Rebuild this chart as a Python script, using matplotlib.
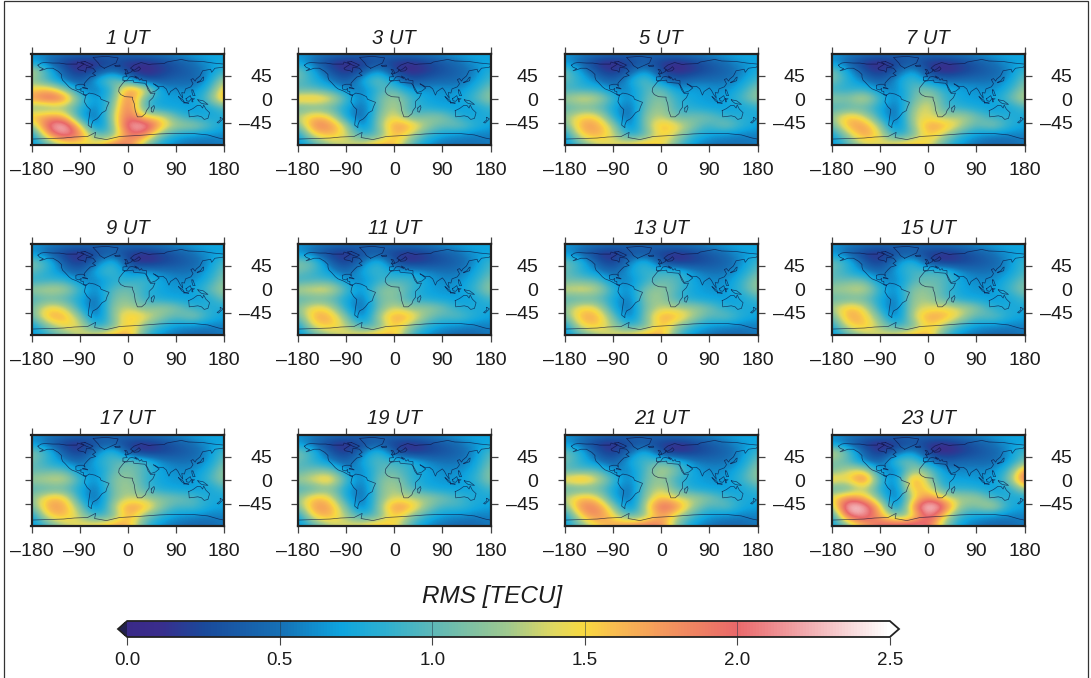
import numpy as np
import matplotlib
matplotlib.use("Agg")
import matplotlib.pyplot as plt
from matplotlib.colors import LinearSegmentedColormap, Normalize
from matplotlib.cm import ScalarMappable
from matplotlib.patches import Rectangle
from matplotlib.ticker import FormatStrFormatter

plt.rcParams['font.family'] = ['Liberation Sans', 'DejaVu Sans']

W, H = 1091, 678

lons = [-180, -150, -120, -90, -60, -30, 0, 30, 60, 90, 120, 150, 180]
lats = [87.5, 70, 52.5, 35, 17.5, 0, -17.5, -35, -52.5, -70, -87.5]
hours = [1, 3, 5, 7, 9, 11, 13, 15, 17, 19, 21, 23]
xticks = [-180, -90, 0, 90, 180]
yticks = [45, 0, -45]
cbar_ticks = [0.0, 0.5, 1.0, 1.5, 2.0, 2.5]

# RMS in hundredths of a TECU, rows north to south, columns west to east
pole_row = [65, 60, 55, 50, 45, 45, 50, 55, 60, 65, 70, 75, 70]

rms_01 = [pole_row,
    [70, 45, 15, 5, 12, 25, 15, 10, 20, 35, 50, 65, 75],
    [145, 95, 35, 10, 25, 55, 15, 5, 15, 30, 40, 60, 90],
    [115, 85, 55, 30, 75, 120, 80, 25, 35, 45, 40, 65, 135],
    [150, 165, 120, 60, 50, 85, 185, 160, 65, 60, 60, 85, 165],
    [175, 210, 195, 100, 60, 95, 205, 100, 70, 70, 65, 105, 180],
    [110, 105, 120, 85, 50, 110, 210, 90, 70, 70, 65, 75, 100],
    [165, 175, 170, 70, 40, 125, 210, 140, 150, 100, 75, 70, 80],
    [110, 215, 245, 150, 40, 110, 225, 240, 165, 125, 130, 100, 70],
    [65, 170, 225, 190, 100, 100, 195, 185, 110, 75, 65, 60, 60],
    [60, 100, 135, 145, 145, 185, 195, 120, 75, 55, 50, 50, 55]]
rms_03 = [pole_row,
    [70, 45, 15, 5, 15, 30, 15, 10, 20, 35, 50, 65, 70],
    [115, 75, 30, 10, 30, 75, 20, 5, 15, 30, 40, 55, 85],
    [105, 80, 55, 30, 75, 115, 65, 30, 40, 45, 45, 65, 95],
    [95, 100, 85, 60, 50, 90, 105, 65, 65, 65, 60, 80, 115],
    [165, 170, 155, 95, 50, 105, 130, 95, 70, 65, 70, 95, 125],
    [100, 105, 100, 75, 40, 100, 140, 85, 80, 70, 65, 70, 90],
    [130, 165, 150, 70, 35, 115, 150, 100, 115, 120, 80, 70, 80],
    [105, 190, 185, 135, 40, 115, 180, 170, 125, 100, 115, 85, 70],
    [65, 150, 165, 140, 85, 95, 170, 135, 90, 70, 60, 55, 55],
    [60, 90, 125, 135, 140, 165, 165, 100, 65, 50, 50, 50, 55]]
rms_05 = [pole_row,
    [65, 40, 12, 5, 20, 35, 15, 8, 20, 35, 50, 65, 70],
    [110, 70, 28, 10, 35, 75, 20, 5, 15, 30, 40, 55, 80],
    [105, 80, 55, 35, 70, 110, 55, 35, 50, 50, 50, 65, 95],
    [90, 85, 85, 60, 55, 95, 110, 65, 70, 65, 60, 80, 120],
    [125, 150, 140, 90, 55, 100, 120, 85, 70, 65, 70, 95, 125],
    [95, 105, 100, 75, 40, 105, 130, 85, 80, 70, 65, 70, 85],
    [120, 155, 155, 80, 35, 120, 135, 100, 110, 110, 85, 80, 75],
    [100, 175, 175, 130, 40, 115, 170, 150, 115, 85, 120, 85, 70],
    [65, 155, 170, 140, 75, 95, 160, 130, 85, 70, 60, 55, 55],
    [60, 100, 135, 140, 150, 165, 155, 100, 65, 50, 50, 50, 55]]
rms_07 = [pole_row,
    [65, 40, 12, 5, 20, 35, 15, 10, 20, 35, 50, 65, 70],
    [115, 75, 28, 10, 35, 80, 20, 5, 15, 30, 40, 55, 95],
    [115, 80, 55, 35, 65, 100, 60, 45, 50, 50, 50, 65, 110],
    [85, 80, 90, 60, 55, 100, 115, 80, 70, 65, 60, 80, 125],
    [125, 115, 150, 90, 55, 100, 135, 90, 70, 65, 70, 100, 140],
    [90, 95, 100, 75, 40, 120, 150, 90, 85, 75, 65, 70, 95],
    [120, 165, 140, 80, 35, 135, 145, 120, 135, 110, 85, 80, 75],
    [100, 170, 180, 125, 40, 120, 175, 170, 135, 95, 125, 85, 70],
    [65, 125, 180, 145, 75, 100, 165, 130, 85, 65, 55, 55, 55],
    [60, 95, 135, 140, 150, 165, 150, 95, 65, 50, 45, 45, 55]]
rms_09 = [pole_row,
    [65, 40, 15, 8, 25, 40, 18, 10, 20, 35, 50, 65, 70],
    [115, 95, 32, 12, 45, 95, 22, 6, 18, 30, 40, 60, 100],
    [105, 80, 55, 35, 80, 100, 55, 65, 55, 50, 50, 70, 110],
    [80, 85, 90, 60, 55, 80, 85, 95, 70, 60, 60, 80, 120],
    [125, 140, 135, 90, 55, 100, 110, 85, 70, 65, 70, 100, 130],
    [90, 100, 95, 75, 40, 110, 120, 85, 75, 70, 65, 75, 110],
    [105, 155, 140, 80, 35, 120, 135, 110, 125, 115, 85, 80, 75],
    [100, 170, 170, 120, 40, 115, 165, 150, 120, 95, 125, 85, 70],
    [65, 115, 150, 145, 75, 100, 165, 115, 85, 65, 60, 55, 55],
    [60, 85, 110, 135, 145, 165, 175, 95, 60, 50, 45, 45, 55]]
rms_11 = [pole_row,
    [65, 40, 15, 8, 30, 35, 18, 10, 20, 35, 50, 65, 70],
    [115, 110, 40, 15, 50, 95, 28, 10, 20, 30, 40, 60, 95],
    [110, 90, 65, 40, 75, 95, 70, 70, 60, 50, 50, 70, 100],
    [85, 90, 95, 65, 55, 85, 95, 95, 70, 60, 60, 80, 115],
    [135, 150, 150, 95, 60, 115, 125, 90, 70, 65, 65, 90, 125],
    [95, 100, 100, 75, 45, 110, 115, 85, 75, 70, 65, 70, 95],
    [115, 155, 140, 75, 40, 105, 140, 115, 125, 110, 80, 75, 75],
    [100, 170, 170, 115, 40, 130, 175, 165, 115, 95, 105, 80, 70],
    [65, 150, 160, 135, 85, 100, 165, 120, 85, 65, 60, 55, 55],
    [60, 95, 125, 140, 150, 165, 165, 95, 60, 50, 45, 45, 55]]
rms_13 = [pole_row,
    [65, 40, 15, 8, 30, 30, 18, 10, 20, 35, 50, 65, 70],
    [110, 90, 35, 15, 55, 95, 28, 10, 20, 30, 40, 60, 95],
    [105, 80, 60, 40, 70, 90, 90, 90, 60, 50, 50, 70, 105],
    [105, 105, 100, 60, 55, 85, 105, 100, 70, 60, 60, 85, 125],
    [140, 150, 140, 85, 55, 115, 125, 95, 70, 65, 65, 90, 125],
    [95, 95, 100, 75, 45, 120, 125, 85, 75, 70, 65, 70, 95],
    [115, 155, 145, 75, 40, 110, 135, 130, 125, 110, 80, 75, 75],
    [105, 170, 170, 110, 40, 115, 175, 165, 130, 95, 110, 80, 70],
    [65, 150, 160, 125, 85, 100, 165, 120, 85, 65, 60, 55, 55],
    [60, 95, 125, 140, 150, 165, 175, 95, 60, 50, 45, 45, 55]]
rms_15 = [pole_row,
    [65, 40, 15, 8, 30, 35, 18, 10, 20, 35, 50, 65, 70],
    [110, 90, 35, 15, 60, 95, 28, 10, 20, 30, 40, 60, 95],
    [105, 80, 60, 40, 70, 95, 95, 95, 60, 50, 50, 65, 95],
    [100, 105, 110, 60, 55, 95, 105, 100, 70, 60, 60, 80, 110],
    [125, 135, 145, 85, 55, 120, 120, 95, 70, 65, 65, 90, 120],
    [100, 100, 105, 75, 45, 125, 125, 95, 75, 70, 65, 70, 95],
    [125, 165, 145, 75, 40, 130, 140, 145, 135, 120, 80, 75, 75],
    [100, 175, 160, 110, 40, 135, 175, 170, 140, 95, 110, 80, 70],
    [70, 150, 165, 125, 85, 100, 160, 125, 85, 65, 60, 55, 55],
    [60, 95, 125, 140, 145, 165, 170, 95, 60, 50, 45, 45, 55]]
rms_17 = [pole_row,
    [65, 40, 15, 8, 30, 35, 18, 10, 20, 35, 50, 65, 70],
    [115, 95, 35, 15, 55, 100, 30, 10, 20, 30, 40, 60, 100],
    [110, 80, 60, 40, 80, 95, 110, 95, 60, 50, 50, 65, 110],
    [100, 100, 105, 60, 60, 100, 115, 95, 70, 60, 60, 80, 125],
    [125, 140, 145, 90, 55, 115, 125, 90, 70, 65, 65, 90, 125],
    [95, 95, 100, 75, 45, 110, 130, 95, 75, 70, 65, 70, 95],
    [115, 160, 160, 75, 40, 110, 135, 125, 115, 110, 100, 75, 75],
    [105, 175, 175, 115, 40, 125, 180, 170, 120, 90, 100, 75, 70],
    [65, 155, 165, 130, 85, 100, 175, 115, 85, 65, 60, 55, 55],
    [60, 95, 130, 145, 150, 170, 170, 95, 60, 50, 45, 45, 55]]
rms_19 = [pole_row,
    [65, 40, 15, 8, 25, 35, 18, 10, 20, 35, 50, 65, 70],
    [115, 90, 32, 12, 50, 100, 30, 10, 20, 30, 40, 60, 100],
    [105, 80, 60, 35, 75, 100, 90, 85, 60, 50, 50, 65, 110],
    [95, 110, 115, 60, 55, 100, 105, 85, 70, 60, 60, 75, 120],
    [125, 150, 170, 95, 50, 110, 125, 85, 70, 65, 65, 85, 120],
    [90, 95, 115, 75, 40, 110, 135, 95, 75, 70, 65, 70, 95],
    [115, 165, 150, 75, 40, 110, 140, 130, 125, 110, 95, 75, 75],
    [110, 180, 175, 110, 40, 115, 185, 170, 120, 90, 95, 75, 70],
    [65, 160, 170, 125, 85, 100, 165, 120, 85, 65, 60, 55, 55],
    [60, 95, 130, 140, 145, 165, 155, 95, 60, 50, 45, 45, 55]]
rms_21 = [pole_row,
    [65, 40, 15, 8, 25, 30, 18, 10, 20, 35, 50, 65, 70],
    [110, 85, 32, 12, 45, 90, 22, 6, 18, 30, 40, 60, 95],
    [110, 80, 55, 35, 75, 95, 100, 85, 55, 50, 50, 65, 110],
    [95, 95, 105, 60, 55, 95, 140, 110, 70, 60, 60, 80, 125],
    [155, 185, 145, 95, 50, 105, 125, 85, 70, 65, 65, 90, 120],
    [95, 95, 105, 75, 40, 110, 140, 95, 75, 70, 65, 70, 95],
    [130, 165, 150, 75, 40, 120, 165, 135, 130, 115, 90, 75, 75],
    [105, 190, 190, 125, 40, 135, 210, 185, 125, 90, 110, 75, 70],
    [65, 155, 190, 150, 95, 115, 180, 130, 90, 65, 60, 55, 55],
    [65, 110, 150, 170, 180, 195, 190, 110, 65, 50, 45, 45, 55]]
rms_23 = [pole_row,
    [65, 40, 15, 5, 15, 30, 15, 8, 20, 35, 50, 65, 70],
    [145, 110, 40, 10, 40, 75, 15, 5, 15, 30, 40, 60, 100],
    [115, 95, 55, 35, 105, 110, 60, 35, 45, 45, 45, 65, 110],
    [105, 135, 150, 60, 50, 125, 115, 60, 60, 60, 60, 90, 185],
    [165, 145, 210, 90, 50, 190, 125, 70, 70, 65, 65, 110, 210],
    [95, 95, 135, 80, 40, 170, 150, 80, 85, 80, 65, 75, 135],
    [145, 185, 165, 105, 35, 140, 185, 145, 125, 130, 90, 75, 75],
    [115, 250, 235, 160, 40, 175, 260, 210, 115, 110, 145, 80, 70],
    [70, 210, 220, 170, 105, 125, 225, 145, 85, 70, 60, 55, 55],
    [65, 115, 165, 205, 210, 220, 205, 120, 65, 50, 45, 45, 55]]

panels = [rms_01, rms_03, rms_05, rms_07, rms_09, rms_11,
          rms_13, rms_15, rms_17, rms_19, rms_21, rms_23]

# Hand-read coastlines (lon, lat)
north_america = [(-168,66),(-162,70),(-156,71),(-140,70),(-128,70),(-115,68),(-95,68),(-94,72),(-82,68),(-94,60),(-92,57),(-82,55),(-79,52),(-78,58),(-77,62),(-65,60),(-60,54),(-66,50),(-60,46),(-70,43),(-75,38),(-81,31),(-80,25),(-83,29),(-90,29),(-97,27),(-97,20),(-91,18),(-87,21),(-88,16),(-83,15),(-83,10),(-78,8),(-80,7),(-86,11),(-95,16),(-105,20),(-110,24),(-117,32),(-122,37),(-124,43),(-124,48),(-130,54),(-140,60),(-150,60),(-158,57),(-165,55),(-158,59),(-165,62),(-168,66)]
south_america = [(-78,8),(-72,12),(-62,10),(-52,5),(-50,0),(-35,-6),(-39,-15),(-41,-22),(-48,-26),(-54,-34),(-58,-38),(-65,-42),(-68,-50),(-68,-55),(-74,-50),(-73,-40),(-70,-20),(-76,-14),(-81,-5),(-80,1),(-78,8)]
africa = [(-6,35),(10,37),(11,33),(20,32),(32,31),(35,27),(38,18),(43,11),(51,12),(47,3),(40,-4),(40,-15),(35,-22),(33,-28),(26,-34),(18,-34),(14,-22),(12,-8),(9,0),(9,4),(-5,5),(-13,9),(-17,15),(-16,22),(-10,30),(-6,35)]
eurasia = [(-9,37),(-9,43),(-1,44),(-4,48),(3,51),(8,54),(8,57),(12,54),(20,55),(24,59),(21,63),(18,60),(12,56),(5,60),(12,66),(25,71),(40,67),(45,68),(68,69),(73,72),(100,77),(113,74),(140,73),(160,70),(180,68),(180,65),(178,62),(163,60),(157,52),(155,58),(140,55),(135,45),(128,39),(126,35),(122,40),(118,38),(122,30),(118,24),(108,20),(106,12),(101,13),(103,2),(98,9),(94,17),(90,22),(80,15),(77,8),(72,20),(66,25),(57,25),(52,28),(48,30),(56,24),(59,22),(52,16),(43,13),(35,28),(35,36),(27,37),(26,40),(22,37),(19,42),(13,45),(18,40),(12,43),(8,44),(3,43),(-1,37),(-5,36),(-9,37)]
australia = [(114,-22),(122,-18),(130,-12),(136,-12),(140,-17),(142,-11),(146,-19),(153,-26),(150,-37),(143,-39),(138,-34),(131,-32),(124,-33),(115,-34),(114,-22)]
greenland = [(-44,60),(-22,70),(-18,80),(-40,83),(-65,81),(-55,70),(-52,65),(-44,60)]
antarctica = [(-180,-77),(-150,-76),(-120,-75),(-100,-73),(-75,-72),(-60,-64),(-62,-74),(-40,-78),(-15,-72),(20,-70),(60,-67),(90,-66),(120,-66),(150,-69),(170,-75),(180,-77)]
madagascar = [(44,-17),(49,-12),(50,-16),(47,-25),(44,-24),(44,-17)]
sumatra = [(95,5),(104,-2),(106,-6),(101,-3),(95,5)]
java = [(105,-7),(114,-8),(114,-7),(106,-6),(105,-7)]
borneo = [(109,1),(117,7),(119,1),(115,-4),(110,-3),(109,1)]
new_guinea = [(131,-1),(141,-3),(150,-10),(143,-9),(138,-8),(133,-4),(131,-1)]
sulawesi = [(120,1),(125,1),(121,-1),(122,-5),(120,-5),(120,1)]
philippines = [(120,18),(122,18),(124,12),(126,7),(122,7),(120,14),(120,18)]
japan = [(130,32),(136,34),(141,36),(142,43),(140,42),(136,36),(130,33),(130,32)]
new_zealand = [(173,-35),(178,-38),(170,-46),(167,-45),(173,-40),(173,-35)]
britain = [(-5,50),(1,51),(-2,57),(-6,58),(-3,54),(-5,50)]
iceland = [(-24,65),(-15,66),(-14,64),(-22,63),(-24,65)]
cuba = [(-84,22),(-75,20),(-78,22),(-84,23),(-84,22)]
baffin = [(-80,73),(-65,66),(-70,63),(-78,66),(-88,72),(-80,73)]
coastlines = [north_america, south_america, africa, eurasia, australia, greenland,
              antarctica, madagascar, sumatra, java, borneo, new_guinea, sulawesi,
              philippines, japan, new_zealand, britain, iceland, cuba, baffin]

cmap = LinearSegmentedColormap.from_list("rms", [
    (0.00, "#3a2a88"), (0.04, "#3a2d8c"), (0.10, "#1a4a9c"), (0.20, "#1670b5"),
    (0.28, "#0ea5df"), (0.34, "#2fb0d0"), (0.40, "#5db8b8"), (0.50, "#a0c98e"),
    (0.56, "#e0d860"), (0.60, "#f8d940"), (0.64, "#f8bc50"), (0.70, "#f49a5c"),
    (0.80, "#e9686a"), (0.90, "#f2b0b4"), (1.00, "#ffffff")])
cmap.set_under("#22204f")
cmap.set_over("#ffffff")
norm = Normalize(0, 2.5)

ink = "#1c1c1c"
fig = plt.figure(figsize=(W / 100, H / 100), dpi=100)


def px_axes(x0, y0, x1, y1):
    return fig.add_axes([x0 / W, 1 - y1 / H, (x1 - x0) / W, (y1 - y0) / H])


col_left = [31.5, 298, 565, 832]
row_top = [54, 244, 435]
pw, ph = 192.5, 90.5

for i, (hr, grid) in enumerate(zip(hours, panels)):
    r, c = divmod(i, 4)
    x0, y0 = col_left[c], row_top[r]
    ax = px_axes(x0, y0, x0 + pw, y0 + ph)
    values = np.array(grid) / 100
    dlon = lons[1] - lons[0]
    dlat = lats[0] - lats[1]
    ax.imshow(values, cmap=cmap, norm=norm, interpolation='bicubic', aspect='auto',
              extent=[lons[0] - dlon / 2, lons[-1] + dlon / 2,
                      lats[-1] - dlat / 2, lats[0] + dlat / 2])
    for coast in coastlines:
        xs, ys = zip(*coast)
        ax.plot(xs, ys, color="#0c0c38", lw=0.5, alpha=0.7, solid_joinstyle='round')
    ax.set_xlim(-180, 180)
    ax.set_ylim(-87.5, 87.5)
    ax.set_xticks(xticks)
    ax.set_xticklabels(["\u2013" + str(-t) if t < 0 else str(t) for t in xticks])
    ax.set_yticks(yticks)
    ax.set_yticklabels(["\u2013" + str(-t) if t < 0 else str(t) for t in yticks], ha='right')
    ax.tick_params(axis='x', which='both', top=True, bottom=True, length=5, width=0.9,
                   color="#444444", labelsize=14, labelcolor=ink, pad=7.5)
    ax.tick_params(axis='y', which='both', left=True, right=True, labelleft=False,
                   labelright=True, length=5, width=0.9, color="#444444",
                   labelsize=14, labelcolor=ink, pad=29.5)
    for s in ax.spines.values():
        s.set_linewidth(1.6)
        s.set_color("#222222")
    ax.text(0.5, 1 + 16 / ph, f"{hr} UT", transform=ax.transAxes, ha='center', va='center',
            fontsize=14.5, style='italic', color=ink)

cax = px_axes(118, 621, 899, 637)
sm = ScalarMappable(norm=norm, cmap=cmap)
cb = fig.colorbar(sm, cax=cax, orientation='horizontal', extend='both',
                  extendfrac=0.012, ticks=cbar_ticks, drawedges=False)
cb.ax.xaxis.set_major_formatter(FormatStrFormatter('%.1f'))
cb.ax.tick_params(axis='x', length=6, width=0.8, color="#444444", labelsize=13.5,
                  labelcolor=ink, pad=5)
cb.outline.set_linewidth(1.3)
cb.outline.set_edgecolor("#222222")
for t in cbar_ticks[1:-1]:
    cb.ax.axvline(t, color="#223344", lw=0.5, alpha=0.7)
fig.text(492 / W, 1 - 597 / H, "RMS [TECU]", ha='center', va='center', fontsize=17.5,
         style='italic', color=ink)

fig.add_artist(Rectangle((4 / W, -0.1), 1084 / W, 1.1 - 0.5 / H, transform=fig.transFigure,
                         fill=False, ec="#333333", lw=0.9))

fig.savefig("out.png", dpi=100)
